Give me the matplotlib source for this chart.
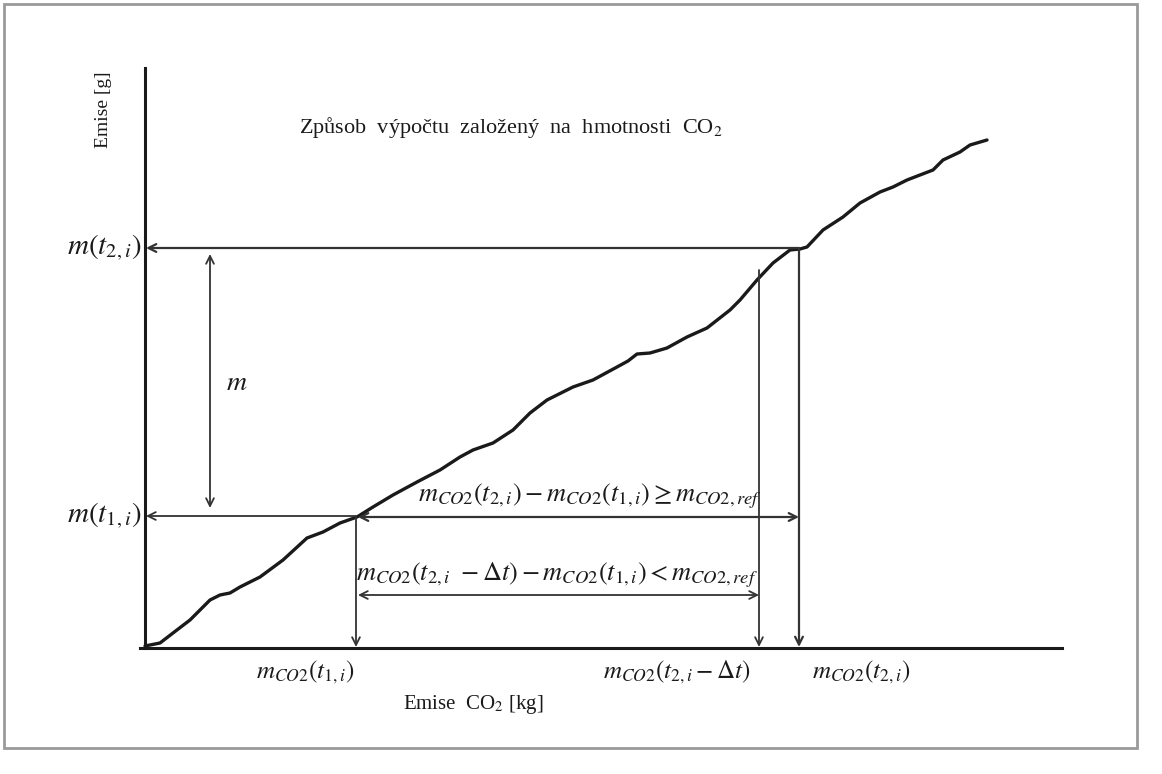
import matplotlib.pyplot as plt
from matplotlib.patches import Rectangle

plt.rcParams['font.family'] = ['Liberation Serif', 'DejaVu Serif']
plt.rcParams['mathtext.fontset'] = 'stix'

# cumulative emission curve (diagram units = pixels)
curve_x = [145, 160, 173, 190, 210, 220, 230, 240, 260, 283, 307, 323, 340, 357,
           373, 393, 417, 440, 460, 473, 493, 513, 530, 547, 573, 593, 617, 628,
           637, 650, 667, 687, 707, 730, 740, 757, 773, 790, 800, 807, 823, 843,
           860, 880, 893, 907, 933, 943, 960, 970, 987]
curve_y = [646, 643, 633, 620, 600, 595, 593, 587, 577, 560, 538, 532, 523, 517,
           507, 495, 482, 470, 457, 450, 443, 430, 413, 400, 387, 380, 367, 361,
           354, 353, 348, 337, 328, 310, 300, 280, 263, 250, 249, 247, 230, 217,
           203, 192, 187, 180, 170, 160, 152, 145, 140]

x_origin, y_origin = 145, 648
y_top, x_end = 68, 1062
m_t1, m_t2 = 516, 248          # m(t1,i), m(t2,i)
x_t1, x_t2dt, x_t2 = 356, 759, 799
y_ge, y_lt = 517, 595          # double arrows
x_m = 210

ink = '#1a1a1a'
grey = '#333333'

fig = plt.figure(figsize=(11.62, 7.74), dpi=100)
ax = fig.add_axes([0, 0, 1, 1])
ax.set_xlim(0, 1162)
ax.set_ylim(774, 0)
ax.axis('off')

ax.add_patch(Rectangle((4, 4), 1133, 744, fill=False, ec='#9a9a9a', lw=2))

# axes
ax.plot([x_origin, x_origin], [y_top, y_origin], color=ink, lw=2.2)
ax.plot([x_origin - 5, x_end], [y_origin, y_origin], color=ink, lw=2.2)

ax.plot(curve_x, curve_y, color=ink, lw=2.4, solid_capstyle='round',
        solid_joinstyle='round')

def arrow(x0, y0, x1, y1, style='->', lw=1.3):
    ax.annotate('', xy=(x1, y1), xytext=(x0, y0),
                arrowprops=dict(arrowstyle=style, color=grey, lw=lw,
                                shrinkA=0, shrinkB=0, mutation_scale=14))

# horizontal arrows to the y axis
arrow(x_t2, m_t2, x_origin + 1, m_t2, lw=1.6)
arrow(x_t1, m_t1, x_origin + 1, m_t1)
# vertical arrows down to the x axis
arrow(x_t1, m_t1, x_t1, y_origin - 1)
arrow(x_t2dt, 270, x_t2dt, y_origin - 1)
arrow(x_t2, m_t2, x_t2, y_origin - 1, lw=1.6)
# double arrows
arrow(x_m, m_t2 + 6, x_m, m_t1 - 8, style='<->')
arrow(x_t1 + 2, y_ge, x_t2, y_ge, style='<->', lw=1.6)
arrow(x_t1 + 2, y_lt, x_t2dt, y_lt, style='<->')

ax.text(x_origin - 42, 110, 'Emise [g]', rotation=90, ha='center', va='center',
        fontsize=14, color=ink)
ax.text(511, 128, r'Způsob  výpočtu  založený  na  hmotnosti  CO$_2$',
        ha='center', va='center', fontsize=16, color=ink)
ax.text(x_origin - 4, m_t2, r'$m(t_{2,i})$', ha='right', va='center', fontsize=21, color=ink)
ax.text(x_origin - 4, m_t1, r'$m(t_{1,i})$', ha='right', va='center', fontsize=21, color=ink)
ax.text(x_m + 27, 383, r'$m$', ha='center', va='center', fontsize=20, color=ink)
ax.text(590, 496, r'$m_{CO2}(t_{2,i})-m_{CO2}(t_{1,i})\geq m_{CO2,ref}$',
        ha='center', va='center', fontsize=19, color=ink)
ax.text(557, 575, r'$m_{CO2}(t_{2,i}\ -\Delta t)-m_{CO2}(t_{1,i})<m_{CO2,ref}$',
        ha='center', va='center', fontsize=19, color=ink)
ax.text(305, 672, r'$m_{CO2}(t_{1,i})$', ha='center', va='center', fontsize=18, color=ink)
ax.text(677, 672, r'$m_{CO2}(t_{2,i}-\Delta t)$', ha='center', va='center', fontsize=18, color=ink)
ax.text(861, 672, r'$m_{CO2}(t_{2,i})$', ha='center', va='center', fontsize=18, color=ink)
ax.text(473, 704, r'Emise  CO$_2$ [kg]', ha='center', va='center', fontsize=15, color=ink)

fig.savefig('out.png', dpi=100, facecolor='white')
